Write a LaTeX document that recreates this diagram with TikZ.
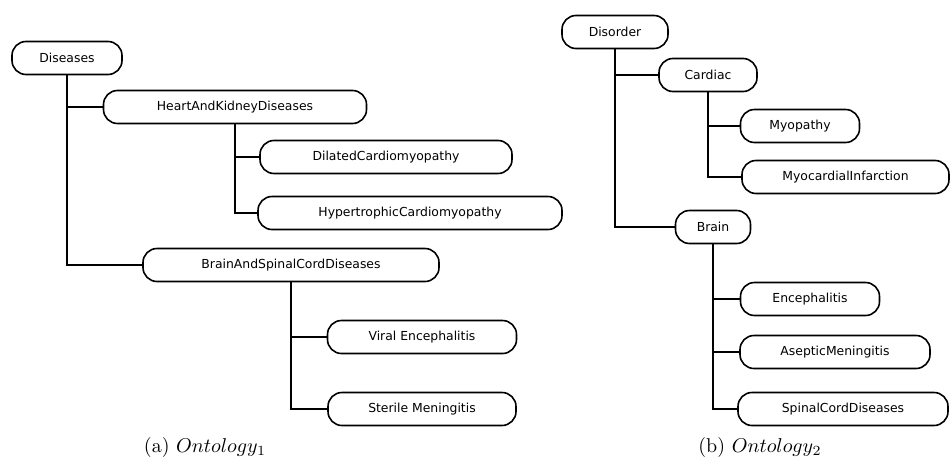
\documentclass[tikz,border=0pt]{standalone}
\usepackage{fontspec}
\usepackage{tikz}
\newfontfamily\guifont{DejaVu Sans}

\begin{document}
\begin{tikzpicture}[x=0.5pt,y=-0.5pt,
					every node/.style = {shape=rectangle, rounded corners=7pt,
						draw, line width=0.8pt, align=center, minimum height=16.5pt,
					inner sep=0pt, font=\guifont\fontsize{6.2}{7.5}\selectfont},
					branch/.style = {line width=1pt, sharp corners},
					caption/.style = {draw=none, font=\normalsize}]
	\useasboundingbox (0,0) rectangle (951,466);
	% Ontology 1
	\node[minimum width=55pt] (diseases) at (67,58) {Diseases};
	\node[minimum width=131.5pt] (heartkidney) at (235,107) {HeartAndKidneyDiseases};
	\node[minimum width=126pt] (dilated) at (386,157) {DilatedCardiomyopathy};
	\node[minimum width=152pt] (hypertrophic) at (410,213) {HypertrophicCardiomyopathy};
	\node[minimum width=148pt] (brainspinal) at (291,265) {BrainAndSpinalCordDiseases};
	\node[minimum width=94.5pt] (viral) at (422,337) {Viral Encephalitis};
	\node[minimum width=94pt] (sterile) at (422,409) {Sterile Meningitis};
	\draw[branch] (diseases) |- (heartkidney);
	\draw[branch] (diseases) |- (brainspinal);
	\draw[branch] (heartkidney) |- (dilated);
	\draw[branch] (heartkidney) |- (hypertrophic);
	\draw[branch] (brainspinal) |- (viral);
	\draw[branch] (brainspinal) |- (sterile);
	\node[caption] (capa) at (205,447) {(a) $Ontology_1$};
	% Ontology 2
	\node[minimum width=53pt] (disorder) at (615,32) {Disorder};
	\node[minimum width=49pt] (cardiac) at (708,75) {Cardiac};
	\node[minimum width=59.5pt] (myopathy) at (800,126) {Myopathy};
	\node[minimum width=103.5pt] (infarction) at (845.5,177) {MyocardialInfarction};
	\node[minimum width=37.5pt] (brain) at (713,227) {Brain};
	\node[minimum width=69.5pt] (enceph) at (810,299) {Encephalitis};
	\node[minimum width=95pt] (aseptic) at (835,352) {AsepticMeningitis};
	\node[minimum width=105pt] (spinal) at (843,409) {SpinalCordDiseases};
	\draw[branch] (disorder) |- (cardiac);
	\draw[branch] (disorder) |- (brain);
	\draw[branch] (cardiac) |- (myopathy);
	\draw[branch] (cardiac) |- (infarction);
	\draw[branch] (brain) |- (enceph);
	\draw[branch] (brain) |- (aseptic);
	\draw[branch] (brain) |- (spinal);
	\node[caption] (capb) at (760,447) {(b) $Ontology_2$};
\end{tikzpicture}
\end{document}
